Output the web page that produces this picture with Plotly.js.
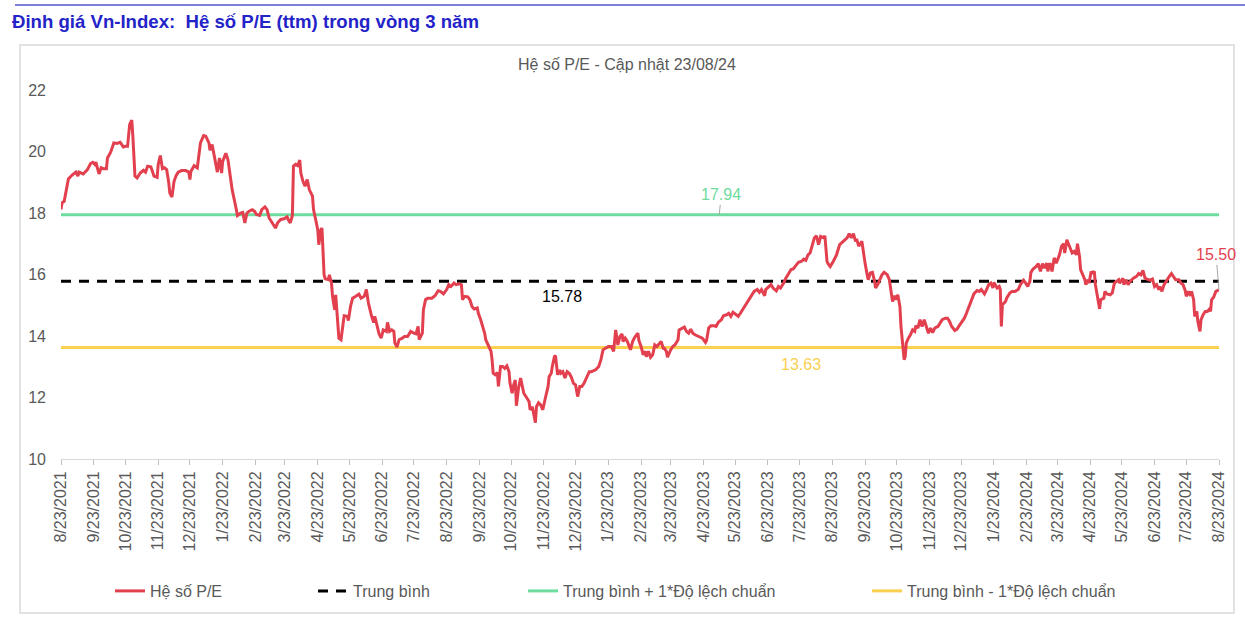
<!DOCTYPE html>
<html>
<head>
<meta charset="utf-8">
<script src="https://cdn.plot.ly/plotly-3.0.1.min.js"></script>
<style>
html,body{margin:0;padding:0;background:#ffffff;}
#chart{width:1245px;height:622px;}
</style>
</head>
<body>
<div id="chart"></div>
<script>
// ---- Data ----
const dates = [
"2021-08-23","2021-08-24","2021-08-26","2021-08-28","2021-08-30","2021-09-02","2021-09-06","2021-09-08","2021-09-09","2021-09-13",
"2021-09-17","2021-09-20","2021-09-22","2021-09-24","2021-09-25","2021-09-28","2021-09-30","2021-10-02","2021-10-05","2021-10-06",
"2021-10-09","2021-10-12","2021-10-15","2021-10-18","2021-10-21","2021-10-23","2021-10-25","2021-10-27","2021-10-29","2021-10-30",
"2021-11-01","2021-11-03","2021-11-06","2021-11-09","2021-11-11","2021-11-13","2021-11-16","2021-11-17","2021-11-19","2021-11-22",
"2021-11-23","2021-11-25","2021-11-27","2021-11-29","2021-12-01","2021-12-03","2021-12-04","2021-12-06","2021-12-08","2021-12-10",
"2021-12-12","2021-12-15","2021-12-19","2021-12-22","2021-12-23","2021-12-24","2021-12-27","2021-12-30","2021-12-31","2022-01-02",
"2022-01-05","2022-01-07","2022-01-10","2022-01-11","2022-01-13","2022-01-14","2022-01-16","2022-01-18","2022-01-20","2022-01-22",
"2022-01-23","2022-01-25","2022-01-26","2022-01-28","2022-01-30","2022-02-01","2022-02-04","2022-02-06","2022-02-09","2022-02-11",
"2022-02-13","2022-02-15","2022-02-17","2022-02-20","2022-02-22","2022-02-24","2022-02-27","2022-03-01","2022-03-04","2022-03-06",
"2022-03-08","2022-03-11","2022-03-14","2022-03-16","2022-03-19","2022-03-22","2022-03-25","2022-03-26","2022-03-28","2022-03-30",
"2022-03-31","2022-04-02","2022-04-04","2022-04-06","2022-04-07","2022-04-09","2022-04-11","2022-04-13","2022-04-15","2022-04-18",
"2022-04-19","2022-04-21","2022-04-23","2022-04-24","2022-04-26","2022-04-27","2022-04-29","2022-04-30","2022-05-03","2022-05-04",
"2022-05-06","2022-05-07","2022-05-09","2022-05-10","2022-05-12","2022-05-13","2022-05-15","2022-05-17","2022-05-18","2022-05-21",
"2022-05-22","2022-05-24","2022-05-26","2022-05-29","2022-06-01","2022-06-03","2022-06-06","2022-06-08","2022-06-10","2022-06-13",
"2022-06-15","2022-06-16","2022-06-18","2022-06-20","2022-06-22","2022-06-24","2022-06-27","2022-06-28","2022-06-30","2022-07-02",
"2022-07-04","2022-07-05","2022-07-07","2022-07-09","2022-07-12","2022-07-14","2022-07-17","2022-07-20","2022-07-23","2022-07-25",
"2022-07-27","2022-07-28","2022-07-31","2022-08-01","2022-08-03","2022-08-05","2022-08-09","2022-08-12","2022-08-15","2022-08-17",
"2022-08-20","2022-08-23","2022-08-25","2022-08-27","2022-08-30","2022-09-01","2022-09-04","2022-09-06","2022-09-07","2022-09-09",
"2022-09-12","2022-09-14","2022-09-16","2022-09-18","2022-09-21","2022-09-22","2022-09-24","2022-09-26","2022-09-28","2022-09-29",
"2022-10-01","2022-10-03","2022-10-04","2022-10-05","2022-10-06","2022-10-08","2022-10-10","2022-10-11","2022-10-13","2022-10-15",
"2022-10-17","2022-10-19","2022-10-21","2022-10-22","2022-10-24","2022-10-25","2022-10-27","2022-10-28","2022-10-30","2022-11-01",
"2022-11-02","2022-11-04","2022-11-06","2022-11-09","2022-11-10","2022-11-12","2022-11-13","2022-11-15","2022-11-16","2022-11-18",
"2022-11-20","2022-11-22","2022-11-24","2022-11-27","2022-11-28","2022-11-30","2022-12-01","2022-12-03","2022-12-04","2022-12-06",
"2022-12-08","2022-12-09","2022-12-11","2022-12-13","2022-12-15","2022-12-17","2022-12-19","2022-12-21","2022-12-23","2022-12-25",
"2022-12-27","2022-12-29","2022-12-31","2023-01-03","2023-01-05","2023-01-07","2023-01-11","2023-01-14","2023-01-16","2023-01-18",
"2023-01-20","2023-01-23","2023-01-26","2023-01-28","2023-01-30","2023-02-01","2023-02-03","2023-02-05","2023-02-06","2023-02-08",
"2023-02-10","2023-02-11","2023-02-13","2023-02-15","2023-02-17","2023-02-20","2023-02-21","2023-02-23","2023-02-25","2023-02-27",
"2023-02-28","2023-03-02","2023-03-04","2023-03-06","2023-03-08","2023-03-10","2023-03-12","2023-03-14","2023-03-16","2023-03-17",
"2023-03-19","2023-03-20","2023-03-23","2023-03-25","2023-03-27","2023-03-30","2023-03-31","2023-04-03","2023-04-05","2023-04-07",
"2023-04-09","2023-04-11","2023-04-13","2023-04-15","2023-04-17","2023-04-19","2023-04-22","2023-04-25","2023-04-26","2023-04-28",
"2023-04-30","2023-05-03","2023-05-05","2023-05-07","2023-05-10","2023-05-12","2023-05-15","2023-05-17","2023-05-19","2023-05-21",
"2023-05-23","2023-05-26","2023-05-28","2023-05-30","2023-06-02","2023-06-04","2023-06-06","2023-06-08","2023-06-10","2023-06-13",
"2023-06-15","2023-06-17","2023-06-20","2023-06-21","2023-06-24","2023-06-26","2023-06-28","2023-07-01","2023-07-03","2023-07-05",
"2023-07-08","2023-07-10","2023-07-13","2023-07-15","2023-07-17","2023-07-19","2023-07-22","2023-07-25","2023-07-27","2023-07-29",
"2023-07-31","2023-08-02","2023-08-04","2023-08-06","2023-08-08","2023-08-10","2023-08-12","2023-08-15","2023-08-16","2023-08-18",
"2023-08-19","2023-08-21","2023-08-24","2023-08-27","2023-08-30","2023-09-03","2023-09-06","2023-09-08","2023-09-10","2023-09-12",
"2023-09-14","2023-09-15","2023-09-17","2023-09-20","2023-09-21","2023-09-23","2023-09-25","2023-09-26","2023-09-28","2023-09-30",
"2023-10-02","2023-10-03","2023-10-05","2023-10-07","2023-10-09","2023-10-11","2023-10-14","2023-10-16","2023-10-17","2023-10-19",
"2023-10-21","2023-10-22","2023-10-24","2023-10-26","2023-10-27","2023-10-29","2023-10-30","2023-10-31","2023-11-01","2023-11-03",
"2023-11-05","2023-11-07","2023-11-09","2023-11-10","2023-11-12","2023-11-14","2023-11-16","2023-11-18","2023-11-20","2023-11-22",
"2023-11-24","2023-11-26","2023-11-28","2023-12-01","2023-12-03","2023-12-05","2023-12-08","2023-12-10","2023-12-12","2023-12-14",
"2023-12-17","2023-12-19","2023-12-21","2023-12-24","2023-12-26","2023-12-28","2023-12-31","2024-01-02","2024-01-04","2024-01-07",
"2024-01-09","2024-01-11","2024-01-14","2024-01-16","2024-01-18","2024-01-20","2024-01-22","2024-01-23","2024-01-26","2024-01-28",
"2024-01-29","2024-01-30","2024-01-31","2024-02-03","2024-02-04","2024-02-07","2024-02-09","2024-02-12","2024-02-15","2024-02-17",
"2024-02-20","2024-02-22","2024-02-24","2024-02-26","2024-02-27","2024-02-29","2024-03-03","2024-03-05","2024-03-07","2024-03-09",
"2024-03-11","2024-03-13","2024-03-14","2024-03-16","2024-03-18","2024-03-20","2024-03-22","2024-03-25","2024-03-27","2024-03-29",
"2024-03-30","2024-04-01","2024-04-03","2024-04-06","2024-04-08","2024-04-10","2024-04-11","2024-04-13","2024-04-14","2024-04-16",
"2024-04-18","2024-04-19","2024-04-21","2024-04-22","2024-04-24","2024-04-25","2024-04-27","2024-04-28","2024-04-30","2024-05-02",
"2024-05-03","2024-05-06","2024-05-07","2024-05-09","2024-05-12","2024-05-14","2024-05-16","2024-05-18","2024-05-20","2024-05-21",
"2024-05-24","2024-05-25","2024-05-27","2024-05-29","2024-05-31","2024-06-03","2024-06-06","2024-06-08","2024-06-10","2024-06-12",
"2024-06-14","2024-06-16","2024-06-19","2024-06-21","2024-06-23","2024-06-25","2024-06-27","2024-06-28","2024-06-30","2024-07-02",
"2024-07-05","2024-07-07","2024-07-09","2024-07-11","2024-07-13","2024-07-16","2024-07-18","2024-07-20","2024-07-22","2024-07-23",
"2024-07-25","2024-07-27","2024-07-28","2024-07-30","2024-07-31","2024-08-02","2024-08-03","2024-08-05","2024-08-06","2024-08-08",
"2024-08-10","2024-08-12","2024-08-14","2024-08-15","2024-08-16","2024-08-18","2024-08-20","2024-08-23"
];
const peValues = [
18.11,18.33,18.38,18.76,19.11,19.22,19.33,19.20,19.33,19.27,
19.41,19.61,19.65,19.58,19.65,19.27,19.47,19.44,19.44,19.79,
19.98,20.28,20.26,20.30,20.15,20.17,20.17,20.88,21.02,20.50,
19.20,19.14,19.30,19.39,19.33,19.52,19.50,19.41,19.20,19.16,
19.58,19.87,19.44,19.47,19.41,18.98,18.65,18.52,19.03,19.22,
19.33,19.38,19.38,19.33,19.09,19.36,19.54,19.47,19.74,20.28,
20.52,20.50,20.28,20.04,20.23,20.07,19.68,19.33,19.79,19.30,
19.68,19.83,19.94,19.74,19.30,18.76,18.27,17.92,18.00,18.02,
17.68,18.00,18.06,18.11,18.06,17.95,17.92,18.11,18.20,18.11,
17.84,17.68,17.51,17.68,17.79,17.81,17.87,17.79,17.68,17.92,
19.52,19.58,19.54,19.72,19.30,19.03,18.87,19.09,18.76,18.55,
18.11,17.79,17.46,16.97,17.46,17.51,15.99,15.86,15.83,15.99,
15.72,15.29,14.85,15.34,14.42,13.93,13.88,14.53,14.66,14.64,
14.50,14.96,15.23,15.29,15.36,15.23,15.29,15.51,15.07,14.64,
14.44,14.64,14.31,14.07,13.93,14.20,14.15,14.44,14.15,14.20,
14.15,13.77,13.64,13.88,13.93,13.98,13.98,14.15,14.09,14.07,
14.31,13.88,14.09,14.85,15.18,15.23,15.23,15.31,15.47,15.45,
15.37,15.51,15.67,15.61,15.72,15.67,15.70,15.67,15.18,15.29,
15.27,15.18,14.96,14.88,14.91,14.74,14.55,14.33,14.09,13.88,
13.71,13.55,13.50,13.23,12.79,12.74,12.81,12.36,13.01,13.01,
12.95,13.03,12.84,12.46,12.14,12.36,12.57,11.73,12.30,12.63,
12.46,12.14,12.03,11.87,11.60,11.70,11.54,11.18,11.70,11.83,
11.76,11.60,11.92,12.36,12.68,12.79,13.01,13.33,13.36,12.74,
12.90,12.79,12.84,12.63,12.84,12.79,12.66,12.46,12.41,12.03,
12.36,12.36,12.46,12.70,12.84,12.84,12.90,13.01,13.23,13.55,
13.60,13.66,13.66,13.50,14.20,13.71,13.98,14.07,13.82,13.93,
13.82,13.71,13.55,13.82,13.96,14.09,13.85,13.66,13.39,13.50,
13.33,13.50,13.31,13.39,13.71,13.66,13.75,13.82,13.60,13.60,
13.50,13.31,13.55,13.66,13.71,13.88,14.20,14.26,14.29,14.15,
14.09,14.22,14.09,14.04,14.01,13.98,13.93,13.79,13.85,14.26,
14.33,14.33,14.31,14.44,14.53,14.66,14.69,14.74,14.64,14.77,
14.72,14.64,14.74,14.85,14.98,15.12,15.23,15.31,15.45,15.51,
15.42,15.51,15.31,15.51,15.61,15.67,15.56,15.47,15.61,15.56,
15.72,15.88,16.05,16.16,16.18,16.26,16.40,16.43,16.50,16.46,
16.64,16.70,16.97,17.19,17.26,16.97,17.24,17.19,17.26,16.43,
16.35,16.26,16.43,16.64,16.97,17.11,17.19,17.33,17.19,17.33,
17.08,17.16,16.92,17.08,16.81,16.37,15.99,15.83,16.05,16.07,
15.78,15.56,15.67,15.83,15.99,16.07,15.99,15.83,15.61,15.12,
15.31,15.18,15.34,14.96,14.31,13.66,13.23,13.33,13.77,13.93,
14.04,14.20,14.15,14.33,14.26,14.53,14.31,14.53,14.29,14.09,
14.26,14.11,14.26,14.31,14.42,14.53,14.58,14.58,14.47,14.31,
14.18,14.22,14.33,14.47,14.58,14.74,15.02,15.23,15.37,15.48,
15.45,15.51,15.37,15.51,15.67,15.72,15.56,15.74,15.56,15.61,
15.51,14.31,15.02,15.12,15.23,15.40,15.45,15.45,15.51,15.67,
15.81,15.72,15.61,15.78,16.07,16.18,16.26,16.35,16.10,16.35,
16.21,16.37,16.10,16.37,16.10,16.54,16.37,16.64,16.92,17.00,
16.70,17.13,16.97,16.70,16.75,16.64,17.00,16.59,16.16,15.99,
15.83,15.67,15.83,15.72,16.10,16.05,16.10,15.67,15.29,14.88,
15.18,15.23,15.45,15.37,15.34,15.40,15.72,15.78,15.83,15.72,
15.88,15.67,15.83,15.67,15.78,15.88,15.94,16.03,15.99,16.13,
15.88,15.85,15.81,15.85,15.61,15.67,15.51,15.61,15.45,15.67,
15.85,15.94,16.03,15.92,15.83,15.83,15.72,15.67,15.48,15.29,
15.45,15.31,15.45,15.18,14.64,14.80,14.47,14.15,14.53,14.69,
14.80,14.80,14.88,14.80,15.18,15.27,15.45,15.50
];
const meanValue = 15.78;
const upperValue = 17.94;   // Trung bình + 1*Độ lệch chuẩn
const lowerValue = 13.63;   // Trung bình - 1*Độ lệch chuẩn
const seriesNames = ["Hệ số P/E", "Trung bình", "Trung bình + 1*Độ lệch chuẩn", "Trung bình - 1*Độ lệch chuẩn"];
const chartTitle = "Định giá Vn-Index:\u00a0 Hệ số P/E (ttm) trong vòng 3 năm";
const subTitle = "Hệ số P/E - Cập nhật 23/08/24";
const upperLabelDate = "2023-05-08";
const meanLabelDate = "2022-12-10";
const lowerLabelDate = "2023-07-24";

// ---- Styling ----
const FONT = "Liberation Sans, Arial, sans-serif";
const GREY = "#595959";
const RED = "#E2404F";
const GREEN = "#6DDC9E";
const YELLOW = "#F9D04F";

const startDate = dates[0];
const endDate = dates[dates.length - 1];
const lastValue = peValues[peValues.length - 1];

const traces = [
  {x: [startDate, endDate], y: [meanValue, meanValue], name: seriesNames[1], mode: "lines",
   line: {color: "#000000", width: 3, dash: "10px,8px"}, legend: "legend2", hoverinfo: "skip"},
  {x: [startDate, endDate], y: [upperValue, upperValue], name: seriesNames[2], mode: "lines",
   line: {color: GREEN, width: 3}, legend: "legend3", hoverinfo: "skip"},
  {x: [startDate, endDate], y: [lowerValue, lowerValue], name: seriesNames[3], mode: "lines",
   line: {color: YELLOW, width: 3}, legend: "legend4", hoverinfo: "skip"},
  {x: dates, y: peValues, name: seriesNames[0], mode: "lines",
   line: {color: RED, width: 3}, legend: "legend", hoverinfo: "skip"}
];

const W = 1245, H = 622;
const M = {l: 61, r: 26, t: 90, b: 163};
const PW = W - M.l - M.r, PH = H - M.t - M.b;
const px = v => (v - M.l) / PW;      // pixel -> paper x
const py = v => (H - M.b - v) / PH;  // pixel -> paper y

function legendAt(xPix) {
  return {x: px(xPix), y: py(591), xanchor: "left", yanchor: "middle", orientation: "h",
          bgcolor: "rgba(0,0,0,0)", borderwidth: 0, itemwidth: 30,
          font: {family: FONT, size: 16, color: GREY}};
}

const layout = {
  width: W, height: H,
  margin: M,
  paper_bgcolor: "#ffffff", plot_bgcolor: "#ffffff",
  font: {family: FONT, color: GREY, size: 16},
  title: {text: "<b>" + chartTitle + "</b>", x: 12 / W, xanchor: "left", xref: "container",
          y: 1 - 21 / H, yanchor: "middle", yref: "container",
          font: {family: FONT, size: 18.6, color: "#2323C8"}},
  showlegend: true,
  legend: legendAt(110),
  legend2: legendAt(313),
  legend3: legendAt(523),
  legend4: legendAt(867),
  xaxis: {
    type: "date", range: [startDate, endDate],
    tick0: startDate, dtick: "M1", tickformat: "%-m/%-d/%Y", tickangle: -90,
    ticks: "outside", ticklen: 5, tickwidth: 1, tickcolor: "#BFBFBF",
    showline: true, linecolor: "#D9D9D9", linewidth: 1,
    showgrid: false, zeroline: false, fixedrange: true,
    tickfont: {family: FONT, size: 16, color: GREY}
  },
  yaxis: {
    range: [10, 22], tick0: 10, dtick: 2, ticks: "", ticklabelstandoff: 14,
    showline: false, showgrid: false, zeroline: false, fixedrange: true,
    tickfont: {family: FONT, size: 16, color: GREY}
  },
  shapes: [
    {type: "line", xref: "paper", yref: "paper", x0: px(15), x1: px(1245), y0: py(5), y1: py(5),
     line: {color: "#7F7FD8", width: 2}},
    {type: "rect", xref: "paper", yref: "paper", x0: px(20), x1: px(1234), y0: py(613), y1: py(45),
     line: {color: "#D9D9D9", width: 1.5}, fillcolor: "rgba(0,0,0,0)", layer: "below"}
  ],
  annotations: [
    {text: subTitle, xref: "paper", yref: "paper", x: px(627), y: py(64), showarrow: false,
     xanchor: "center", yanchor: "middle", font: {family: FONT, size: 16, color: GREY}},
    {text: upperValue.toFixed(2), x: upperLabelDate, y: upperValue, xref: "x", yref: "y",
     showarrow: true, arrowhead: 0, arrowwidth: 1, arrowcolor: "#A6A6A6", ax: 2, ay: -20, standoff: 0,
     font: {family: FONT, size: 16, color: GREEN}},
    {text: meanValue.toFixed(2), x: meanLabelDate, y: meanValue, xref: "x", yref: "y",
     showarrow: false, yshift: -15, font: {family: FONT, size: 16, color: "#000000"}},
    {text: lowerValue.toFixed(2), x: lowerLabelDate, y: lowerValue, xref: "x", yref: "y",
     showarrow: false, yshift: -17, font: {family: FONT, size: 16, color: YELLOW}},
    {text: lastValue.toFixed(2), x: endDate, y: lastValue, xref: "x", yref: "y",
     showarrow: true, arrowhead: 0, arrowwidth: 1, arrowcolor: "#A6A6A6", ax: -3, ay: -35, standoff: 0,
     font: {family: FONT, size: 16, color: RED}}
  ]
};

Plotly.newPlot("chart", traces, layout, {displayModeBar: false, staticPlot: true});
</script>
</body>
</html>
